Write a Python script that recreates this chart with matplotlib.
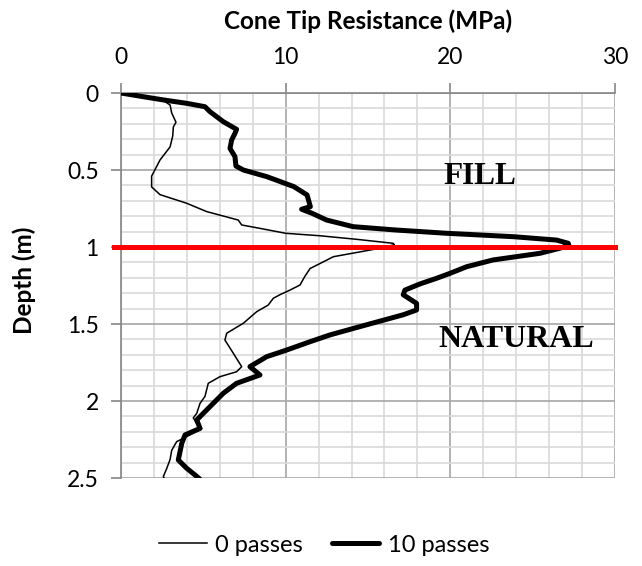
import matplotlib
matplotlib.use("Agg")
import matplotlib.pyplot as plt
from matplotlib.ticker import MultipleLocator, FuncFormatter

# Depth (m) and cone tip resistance (MPa), 0 passes
depth_0 = [0, 0.024, 0.045, 0.056, 0.078, 0.13, 0.19, 0.22, 0.28, 0.35, 0.435,
           0.54, 0.61, 0.66, 0.716, 0.77, 0.825, 0.857, 0.879, 0.911, 0.927,
           0.95, 0.976, 0.985, 1.008, 1.063, 1.14, 1.19, 1.247, 1.28, 1.31,
           1.333, 1.377, 1.42, 1.495, 1.56, 1.604, 1.69, 1.777, 1.81, 1.842,
           1.885, 1.97, 2.015, 2.08, 2.11, 2.145, 2.18, 2.22, 2.264, 2.32,
           2.38, 2.44, 2.49, 2.51]
qc_0 = [0, 1.3, 2.4, 2.67, 2.98, 3.08, 3.34, 3.18, 3.14, 2.98, 2.37,
        1.86, 1.86, 2.37, 3.99, 5.2, 7.12, 7.33, 8.44, 10.0, 12.08,
        14.3, 16.53, 16.6, 15.73, 12.9, 11.48, 11.17, 10.87, 10.26, 9.65,
        9.25, 8.94, 8.24, 7.43, 6.42, 6.31, 6.82, 7.33, 7.02, 6.01,
        5.3, 5.1, 4.8, 4.6, 4.39, 4.6, 4.9, 4.19, 3.38, 3.08,
        2.98, 2.77, 2.57, 2.67]

# 10 passes
depth_10 = [0, 0.024, 0.045, 0.067, 0.089, 0.121, 0.186, 0.236, 0.262, 0.305,
            0.36, 0.413, 0.474, 0.5, 0.543, 0.608, 0.662, 0.738, 0.755, 0.781,
            0.825, 0.868, 0.89, 0.911, 0.933, 0.955, 0.976, 0.99, 1.008, 1.041,
            1.084, 1.128, 1.171, 1.203, 1.24, 1.28, 1.31, 1.366, 1.409, 1.44,
            1.517, 1.571, 1.615, 1.669, 1.712, 1.777, 1.831, 1.885, 1.95,
            2.037, 2.123, 2.178, 2.22, 2.275, 2.383, 2.437, 2.48, 2.508]
qc_10 = [0, 1.35, 2.57, 3.99, 5.1, 5.4, 6.21, 7.02, 6.92, 6.72,
         6.62, 6.92, 6.98, 7.43, 8.85, 10.5, 11.3, 11.5, 10.97, 11.6,
         12.49, 14.1, 16.74, 19.78, 23.82, 26.45, 27.16, 27.2, 26.65, 25.44,
         22.6, 20.99, 19.98, 19.17, 18.15, 17.24, 17.14, 17.95, 17.95, 17.14,
         14.51, 12.69, 11.48, 10.06, 8.85, 7.83, 8.44, 7.02, 6.21,
         5.4, 4.6, 4.8, 3.89, 3.69, 3.48, 3.99, 4.49, 4.8]

boundary_depth = 1.0
labels = ["0 passes", "10 passes"]

fig = plt.figure(figsize=(6.42, 5.66), dpi=100)
ax = fig.add_axes([121 / 642, 1 - 478 / 566, 494 / 642, 385 / 566])

ax.plot(qc_0, depth_0, color="black", lw=1.1, label=labels[0], zorder=3,
        solid_joinstyle="round")
ax.plot(qc_10, depth_10, color="black", lw=3.6, label=labels[1],
        solid_capstyle="round", solid_joinstyle="round", zorder=3)
ax.axhline(boundary_depth, xmin=-0.014, xmax=1, color="#ff0000", lw=3.6,
           clip_on=False, zorder=4)

ax.set_xlim(0, 30)
ax.set_ylim(2.5, 0)
ax.xaxis.tick_top()
ax.xaxis.set_major_locator(MultipleLocator(10))
ax.xaxis.set_minor_locator(MultipleLocator(2))
ax.yaxis.set_major_locator(MultipleLocator(0.5))
ax.yaxis.set_minor_locator(MultipleLocator(0.1))
ax.yaxis.set_major_formatter(FuncFormatter(lambda v, p: f"{v:g}"))

ax.grid(which="minor", color="#d9d9d9", lw=1.2, zorder=0)
ax.grid(which="major", color="#a6a6a6", lw=1.2, zorder=0)
ax.set_axisbelow(True)

for s in ["right", "bottom"]:
    ax.spines[s].set_visible(False)
for s in ["left", "top"]:
    ax.spines[s].set_color("#868686")
    ax.spines[s].set_linewidth(1.2)

ax.tick_params(which="major", length=7, width=1.2, color="#868686",
               labelsize=16.5, labelfontfamily="Lato")
ax.tick_params(axis="x", which="major", pad=11)
ax.tick_params(axis="y", which="major", pad=9)
ax.tick_params(which="minor", length=0)

ax.text(21.8, 0.543, "FILL", fontsize=22.5, fontweight="bold",
        family="Liberation Serif", ha="center", va="center")
ax.text(24.0, 1.60, "NATURAL", fontsize=23, fontweight="bold",
        family="Liberation Serif", ha="center", va="center")

fig.text(368 / 642, 1 - 21 / 566, "Cone Tip Resistance (MPa)", fontsize=17.5,
         fontweight="bold", family="Lato", ha="center", va="center")
fig.text(24 / 642, 1 - 280 / 566, "Depth (m)", fontsize=17.5,
         fontweight="bold", family="Lato", ha="center", va="center",
         rotation=90)

fig.legend(loc="center", bbox_to_anchor=(0.505, 1 - 545 / 566), ncol=2,
           frameon=False, prop={"family": "Lato", "size": 17},
           handlelength=2.0, handletextpad=0.35, columnspacing=1.25)

fig.savefig("out.png", dpi=100)
